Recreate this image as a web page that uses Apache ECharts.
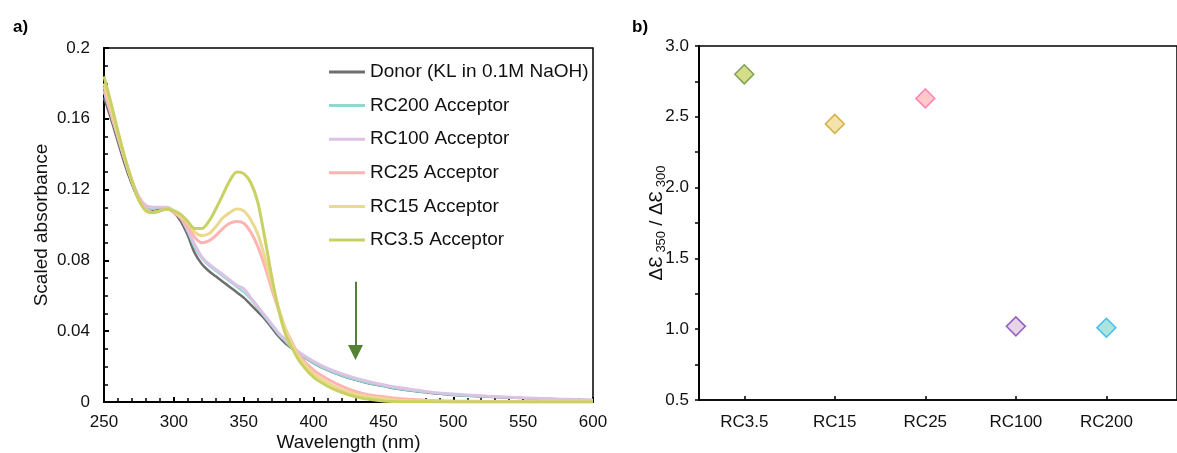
<!DOCTYPE html>
<html>
<head>
<meta charset="utf-8">
<script src="https://cdn.jsdelivr.net/npm/echarts@6/dist/echarts.min.js"></script>
<style>
  html, body { margin: 0; padding: 0; background: #fff; }
  #chart { width: 1177px; height: 453px; }
</style>
</head>
<body>
<div id="chart"></div>
<script>
// panel a) - absorbance spectra
const wavelengths = [250,255,260,265,270,275,280,285,290,295,300,305,310,315,320,325,330,335,340,345,350,355,360,365,370,375,380,385,390,400,410,420,430,440,450,460,480,500,525,550,575,600];

const donor = [0.172,0.160,0.147,0.134,0.123,0.114,0.109,0.108,0.109,0.109,0.107,0.102,0.094,0.084,0.078,0.074,0.071,0.068,0.065,0.062,0.059,0.055,0.051,0.047,0.042,0.037,0.033,0.030,0.027,0.022,0.018,0.015,0.0125,0.0105,0.009,0.0075,0.0055,0.004,0.003,0.0022,0.0015,0.001];
const rc200 = [0.175,0.162,0.149,0.136,0.124,0.115,0.110,0.109,0.110,0.110,0.108,0.104,0.096,0.087,0.081,0.077,0.074,0.071,0.068,0.065,0.062,0.058,0.053,0.048,0.043,0.038,0.034,0.030,0.027,0.022,0.018,0.015,0.0125,0.0105,0.009,0.0075,0.0055,0.004,0.003,0.0022,0.0015,0.001];
const rc100 = [0.176,0.163,0.150,0.137,0.125,0.116,0.111,0.110,0.110,0.110,0.108,0.104,0.097,0.089,0.082,0.078,0.075,0.072,0.069,0.066,0.064,0.059,0.054,0.049,0.044,0.039,0.035,0.031,0.028,0.023,0.019,0.016,0.0135,0.0115,0.0098,0.0083,0.006,0.0045,0.0033,0.0024,0.0017,0.0012];
const rc25 = [0.178,0.164,0.150,0.137,0.125,0.115,0.109,0.107,0.108,0.109,0.107,0.104,0.099,0.093,0.090,0.091,0.094,0.098,0.101,0.102,0.101,0.096,0.088,0.077,0.064,0.052,0.041,0.033,0.026,0.018,0.013,0.009,0.006,0.004,0.003,0.002,0.001,0.0005,0.0003,0.0002,0.0001,0.0001];
const rc15 = [0.180,0.166,0.151,0.137,0.125,0.114,0.108,0.107,0.108,0.109,0.108,0.105,0.101,0.096,0.094,0.095,0.099,0.104,0.107,0.109,0.108,0.103,0.095,0.082,0.067,0.053,0.041,0.032,0.025,0.016,0.011,0.007,0.0045,0.003,0.002,0.001,0.0005,0.0002,0.0001,0.0001,0.0001,0.0001];
const rc35 = [0.184,0.169,0.153,0.138,0.125,0.114,0.108,0.107,0.108,0.109,0.108,0.106,0.102,0.098,0.098,0.102,0.109,0.117,0.125,0.130,0.129,0.124,0.113,0.093,0.071,0.052,0.038,0.030,0.023,0.014,0.009,0.0055,0.003,0.0015,0.0005,0.0002,0.0001,0,0,0,0,0];

const spectraNames = ['Donor (KL in 0.1M NaOH)', 'RC200 Acceptor', 'RC100 Acceptor', 'RC25 Acceptor', 'RC15 Acceptor', 'RC3.5 Acceptor'];
const spectra = [donor, rc200, rc100, rc25, rc15, rc35];
const spectraColors = ['#6e6e6e', '#8fd9d1', '#dcc3e3', '#ffb3b3', '#ecd88e', '#c9d164'];
const spectraWidths = [2.5, 2, 3, 3, 3, 3];

// arrow annotation (wavelength, from, to)
const arrowX = 430;
const arrowFrom = 0.068;
const arrowTo = 0.028;

// panel b) - ratio per sample
const samples = ['RC3.5', 'RC15', 'RC25', 'RC100', 'RC200'];
const ratios = [2.80, 2.45, 2.63, 1.02, 1.01];
const ratioFill = ['#cbd46a', '#f1dc96', '#ffbcbc', '#e2c9e3', '#96ddd6'];
const ratioEdge = ['#62913a', '#c9a22a', '#ff6fae', '#7a40b5', '#1eb2f0'];

const font = "'Liberation Sans', Arial, sans-serif";
const myChart = echarts.init(document.getElementById('chart'));

let series = spectra.map((vals, i) => ({
  name: spectraNames[i],
  type: 'line',
  xAxisIndex: 0,
  yAxisIndex: 0,
  smooth: 0.3,
  showSymbol: false,
  symbol: 'none',
  data: wavelengths.map((w, j) => [w, vals[j]]),
  lineStyle: { color: spectraColors[i], width: spectraWidths[i] },
  itemStyle: { color: spectraColors[i] }
}));

// green arrow
series.push({
  type: 'line',
  xAxisIndex: 0,
  yAxisIndex: 0,
  data: [],
  markLine: {
    silent: true,
    symbol: ['none', 'triangle'],
    symbolSize: 15,
    label: { show: false },
    lineStyle: { color: '#548235', width: 2, type: 'solid' },
    data: [[{ coord: [arrowX, arrowFrom] }, { coord: [arrowX, arrowTo] }]]
  }
});

series.push({
  type: 'scatter',
  xAxisIndex: 1,
  yAxisIndex: 1,
  symbol: 'diamond',
  symbolSize: 19,
  data: ratios.map((r, i) => ({
    value: [i + 1, r],
    itemStyle: { color: ratioFill[i], borderColor: ratioEdge[i], borderWidth: 1.5 }
  }))
});

myChart.setOption({
  animation: false,
  textStyle: { fontFamily: font },
  title: [
    { text: 'a)', left: 8, top: 14, textStyle: { fontSize: 17, fontWeight: 'bold', color: '#000', fontFamily: font } },
    { text: 'b)', left: 627, top: 14, textStyle: { fontSize: 17, fontWeight: 'bold', color: '#000', fontFamily: font } }
  ],
  legend: {
    orient: 'vertical',
    left: 329,
    top: 62,
    padding: 0,
    itemGap: 13.6,
    itemWidth: 36,
    itemHeight: 3,
    icon: 'rect',
    data: spectraNames,
    textStyle: { fontSize: 19, color: '#111', lineHeight: 20, fontFamily: font }
  },
  grid: [
    { left: 104, right: 584, top: 48, bottom: 51, outerBoundsMode: 'none', show: true, borderColor: '#000', borderWidth: 1.5 },
    { left: 699, right: 0, top: 46, bottom: 53, outerBoundsMode: 'none', show: true, borderColor: '#000', borderWidth: 1.5 }
  ],
  xAxis: [
    {
      gridIndex: 0,
      type: 'value',
      min: 250,
      max: 600,
      interval: 50,
      name: 'Wavelength (nm)',
      nameLocation: 'middle',
      nameGap: 31,
      nameMoveOverlap: false,
      nameTextStyle: { fontSize: 19, color: '#111' },
      axisLine: { onZero: false, lineStyle: { color: '#000', width: 2 } },
      axisTick: { inside: true, length: 5, lineStyle: { color: '#000', width: 2 } },
      minorTick: { show: true, splitNumber: 5, length: 4, lineStyle: { color: '#000', width: 1.5 } },
      axisLabel: { fontSize: 17, color: '#111', margin: 12 },
      splitLine: { show: false }
    },
    {
      gridIndex: 1,
      type: 'value',
      min: 0.5,
      max: 5.78,
      axisLine: { onZero: false, lineStyle: { color: '#000', width: 1.5 } },
      axisTick: { customValues: [1, 2, 3, 4, 5], inside: true, length: 4, lineStyle: { color: '#000', width: 1.5 } },
      axisLabel: {
        customValues: [1, 2, 3, 4, 5],
        fontSize: 17,
        color: '#111',
        margin: 14,
        formatter: v => samples[Math.round(v) - 1]
      },
      splitLine: { show: false }
    }
  ],
  yAxis: [
    {
      gridIndex: 0,
      type: 'value',
      min: 0,
      max: 0.2,
      interval: 0.04,
      name: 'Scaled absorbance',
      nameLocation: 'middle',
      nameGap: 53,
      nameMoveOverlap: false,
      nameTextStyle: { fontSize: 19, color: '#111' },
      axisLine: { lineStyle: { color: '#000', width: 2 } },
      axisTick: { inside: true, length: 5, lineStyle: { color: '#000', width: 2 } },
      minorTick: { show: true, splitNumber: 4, length: 4, lineStyle: { color: '#000', width: 1.5 } },
      axisLabel: { fontSize: 17, color: '#111', margin: 14 },
      splitLine: { show: false }
    },
    {
      gridIndex: 1,
      type: 'value',
      min: 0.5,
      max: 3.0,
      interval: 0.5,
      name: '{a|ΔƐ}{s| 350}{a| / ΔƐ}{s| 300}',
      nameLocation: 'middle',
      nameGap: 30,
      nameMoveOverlap: false,
      nameTextStyle: {
        rich: {
          a: { fontSize: 19, color: '#111', fontFamily: font, lineHeight: 24 },
          s: { fontSize: 13, color: '#111', fontFamily: font, lineHeight: 24, padding: [8, 0, 0, 0] }
        }
      },
      axisLine: { lineStyle: { color: '#000', width: 2 } },
      axisTick: { length: 4, lineStyle: { color: '#000', width: 1.5 } },
      minorTick: { show: true, splitNumber: 2, length: 4, lineStyle: { color: '#000', width: 1.5 } },
      axisLabel: { fontSize: 17, color: '#111', margin: 10, formatter: v => v.toFixed(1) },
      splitLine: { show: false }
    }
  ],
  series: series
});
</script>
</body>
</html>
